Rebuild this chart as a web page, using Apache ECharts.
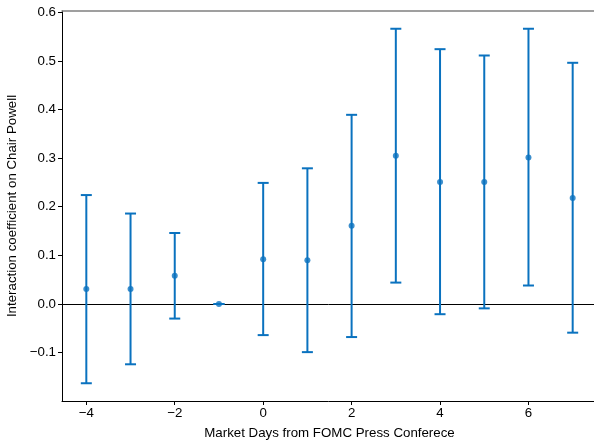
<!DOCTYPE html>
<html><head><meta charset="utf-8">
<script src="https://cdn.jsdelivr.net/npm/echarts@6/dist/echarts.min.js"></script>
<style>html,body{margin:0;padding:0;background:#fff}#c{width:594px;height:445px}</style>
</head><body><div id="c"></div>
<script>
const days = [-4,-3,-2,-1,0,1,2,3,4,5,6,7];
const coef = [0.031,0.031,0.058,0.0,0.092,0.090,0.161,0.305,0.251,0.251,0.301,0.218];
const upper = [0.224,0.186,0.146,0.0,0.249,0.279,0.389,0.566,0.524,0.511,0.566,0.496];
const lower = [-0.163,-0.124,-0.030,0.0,-0.064,-0.099,-0.068,0.044,-0.021,-0.009,0.038,-0.059];
const xTicks = [-4,-2,0,2,4,6];
const yTicks = [-0.1,0,0.1,0.2,0.3,0.4,0.5,0.6];

const color = '#0a72bf';
const font = 'Liberation Sans, Arial, sans-serif';
const fs = 13.3;
const fmt = v => (v < 0 ? '\u2212' : '') + Math.abs(v);
const fmtY = v => (v < 0 ? '\u2212' : '') + Math.abs(v).toFixed(1);

const chart = echarts.init(document.getElementById('c'));
chart.setOption({
  animation: false,
  grid: {left: 62, right: -3, top: 11, bottom: 44, containLabel: false, outerBoundsMode: 'none'},
  xAxis: [{
    type: 'value', min: -4.55, max: 7.55,
    name: 'Market Days from FOMC Press Conferece', nameLocation: 'middle', nameGap: 26,
    nameTextStyle: {color: '#000', fontFamily: font, fontSize: fs},
    axisLine: {show: true, onZero: false, lineStyle: {color: '#000', width: 1}},
    axisTick: {show: true, length: 4, customValues: xTicks, lineStyle: {color: '#000'}},
    axisLabel: {customValues: xTicks, formatter: fmt, color: '#000', fontFamily: font, fontSize: fs, margin: 6},
    splitLine: {show: false}
  }, {
    type: 'value', min: -4.55, max: 7.55, position: 'top',
    axisLine: {show: true, onZero: false, lineStyle: {color: '#808080', width: 1.5}},
    axisTick: {show: false}, axisLabel: {show: false}, splitLine: {show: false}
  }],
  yAxis: {
    type: 'value', min: -0.1995, max: 0.6025,
    name: 'Interaction coefficient on Chair Powell', nameLocation: 'middle', nameGap: 40,
    nameTextStyle: {color: '#000', fontFamily: font, fontSize: fs},
    axisLine: {show: true, onZero: false, lineStyle: {color: '#000', width: 1}},
    axisTick: {show: true, length: 4, customValues: yTicks, lineStyle: {color: '#000'}},
    axisLabel: {customValues: yTicks, formatter: fmtY, color: '#000', fontFamily: font, fontSize: fs, margin: 6},
    splitLine: {show: false}
  },
  series: [{
    type: 'custom',
    data: days.map((d, i) => [d, lower[i], upper[i]]),
    renderItem: function (params, api) {
      const x = api.value(0);
      const lo = api.coord([x, api.value(1)]);
      const hi = api.coord([x, api.value(2)]);
      const hw = 5.5;
      const style = {stroke: color, lineWidth: 2, fill: null};
      return {type: 'group', children: [
        {type: 'line', shape: {x1: lo[0], y1: lo[1], x2: hi[0], y2: hi[1]}, style: style},
        {type: 'line', shape: {x1: lo[0]-hw, y1: lo[1], x2: lo[0]+hw, y2: lo[1]}, style: style},
        {type: 'line', shape: {x1: hi[0]-hw, y1: hi[1], x2: hi[0]+hw, y2: hi[1]}, style: style}
      ]};
    },
    z: 2
  }, {
    type: 'scatter',
    data: days.map((d, i) => [d, coef[i]]),
    symbol: 'circle', symbolSize: 6,
    itemStyle: {color: color},
    z: 3,
    markLine: {
      silent: true, symbol: 'none', label: {show: false},
      lineStyle: {color: '#000', width: 1, type: 'solid'},
      data: [{yAxis: 0}], z: 1
    }
  }]
});
</script></body></html>
